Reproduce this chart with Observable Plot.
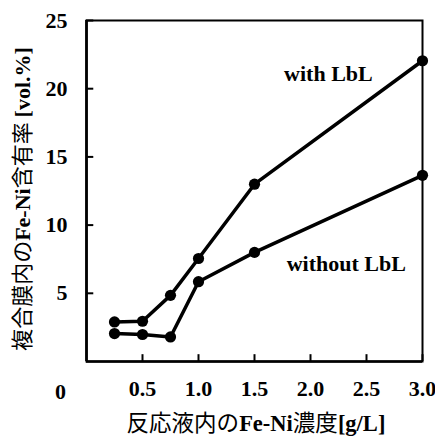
<!DOCTYPE html>
<html>
<head>
<meta charset="utf-8">
<script src="https://cdn.jsdelivr.net/npm/d3@7"></script>
<script src="https://cdn.jsdelivr.net/npm/@observablehq/plot@0.6"></script>
<style>
  body { margin: 0; background: #fff; }
</style>
</head>
<body>
<div id="chart"></div>
<script>
const concentrations = [0.25, 0.5, 0.75, 1.0, 1.5, 3.0];
const withLbL = [2.9, 2.95, 4.85, 7.55, 13.0, 22.05];
const withoutLbL = [2.05, 1.98, 1.8, 5.85, 8.0, 13.65];
const xTicks = [0.5, 1.0, 1.5, 2.0, 2.5, 3.0];
const yTicks = [5, 10, 15, 20, 25];
const seriesLabels = [
  {name: "with LbL", x: 2.16, y: 21.1},
  {name: "without LbL", x: 2.32, y: 7.18}
];

const rows = [];
concentrations.forEach((c, i) => {
  rows.push({series: "with LbL", x: c, y: withLbL[i]});
  rows.push({series: "without LbL", x: c, y: withoutLbL[i]});
});

const fontBold = {fontFamily: "Liberation Serif", fontWeight: "bold", fontSize: 22};

const plot = Plot.plot({
  width: 435,
  height: 436,
  marginLeft: 86,
  marginRight: 13,
  marginTop: 20,
  marginBottom: 75,
  style: {fontFamily: "Liberation Serif", fontSize: "22px", fontWeight: "bold", color: "black", background: "white"},
  x: {domain: [0, 3], axis: null},
  y: {domain: [0, 25], axis: null},
  marks: [
    Plot.frame({stroke: "black", strokeWidth: 2}),
    Plot.ruleX(xTicks, {x: d => d, y1: 0, y2: 0.5, stroke: "black", strokeWidth: 2}),
    Plot.ruleY(yTicks, {y: d => d, x1: 0, x2: 0.065, stroke: "black", strokeWidth: 2}),
    Plot.axisX({ticks: xTicks, tickSize: 0, tickPadding: 19, tickFormat: d3.format(".1f"), ...fontBold, fill: "black", label: null}),
    Plot.axisY({ticks: yTicks, tickSize: 0, tickPadding: 19, tickFormat: d3.format("d"), ...fontBold, fill: "black", label: null}),
    Plot.text([0], {x: 0, y: 0, text: d => String(d), dx: -26, dy: 30, ...fontBold, fill: "black"}),
    Plot.ruleX([0], {stroke: "black", strokeWidth: 2.7}),
    Plot.ruleY([0], {stroke: "black", strokeWidth: 2.7}),
    Plot.line(rows, {x: "x", y: "y", z: "series", stroke: "black", strokeWidth: 3.5}),
    Plot.dot(rows, {x: "x", y: "y", r: 5.6, fill: "black", stroke: "none"}),
    Plot.text(seriesLabels, {x: "x", y: "y", text: "name", ...fontBold, fill: "black"})
  ]
});

const svg = d3.select(plot);
// y axis title
const yt = svg.append("text")
  .attr("transform", "translate(30,199) rotate(-90)")
  .attr("text-anchor", "middle")
  .attr("font-size", 22)
  .attr("fill", "black");
yt.append("tspan").attr("font-family", "Noto Sans CJK JP").attr("font-weight", "normal").text("複合膜内の");
yt.append("tspan").attr("font-family", "Liberation Serif").attr("font-weight", "bold").text("Fe-Ni");
yt.append("tspan").attr("font-family", "Noto Sans CJK JP").attr("font-weight", "normal").text("含有率 ");
yt.append("tspan").attr("font-family", "Liberation Serif").attr("font-weight", "bold").text("[vol.%]");

// x axis title
const xt = svg.append("text")
  .attr("x", 256).attr("y", 431)
  .attr("text-anchor", "middle")
  .attr("font-size", 22.5)
  .attr("fill", "black");
xt.append("tspan").attr("font-family", "Noto Sans CJK JP").attr("font-weight", "normal").text("反応液内の");
xt.append("tspan").attr("font-family", "Liberation Serif").attr("font-weight", "bold").text("Fe-Ni");
xt.append("tspan").attr("font-family", "Noto Sans CJK JP").attr("font-weight", "normal").text("濃度");
xt.append("tspan").attr("font-family", "Liberation Serif").attr("font-weight", "bold").text("[g/L]");

document.getElementById("chart").appendChild(plot);
</script>
</body>
</html>
